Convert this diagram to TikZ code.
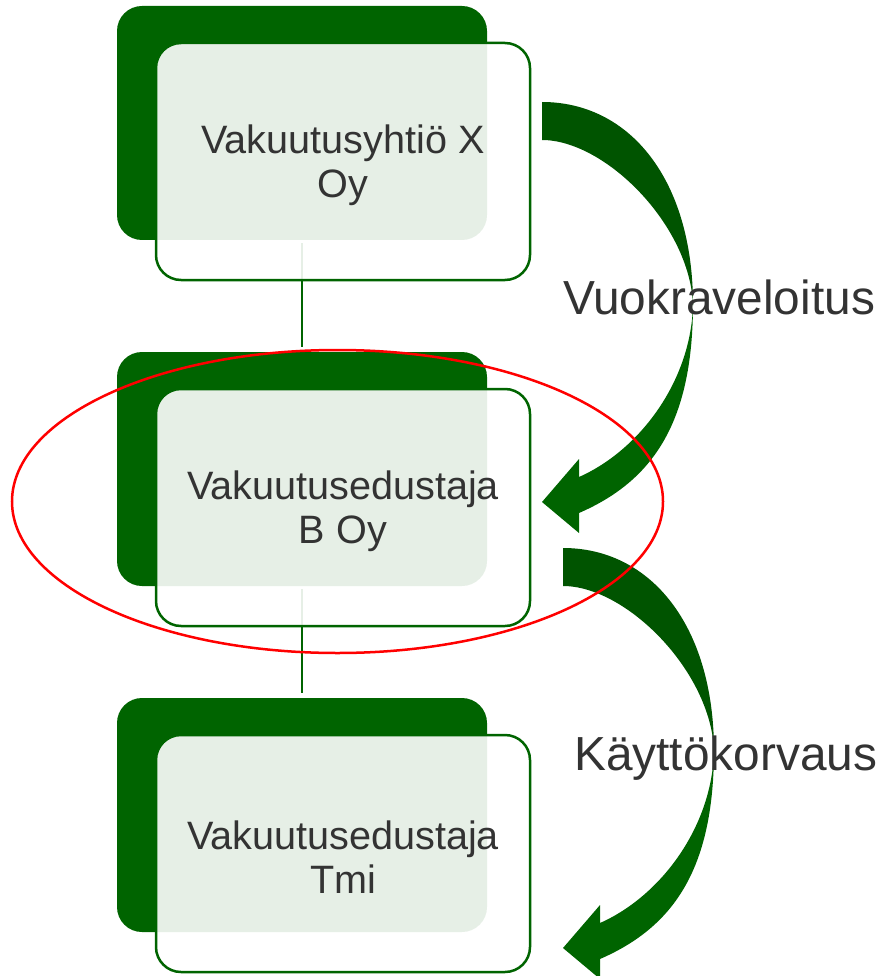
\documentclass[tikz,border=0pt]{standalone}
\usepackage{fontspec}
\setmainfont{Liberation Sans}
\definecolor{dg}{RGB}{0,100,0}
\definecolor{dga}{RGB}{0,84,0}
\definecolor{txt}{RGB}{51,51,51}
\tikzset{
  darkbox/.style={fill=dg, rounded corners=25pt, minimum width=370pt, minimum height=234pt, inner sep=0pt, outer sep=0pt},
  outbox/.style={fill=white, fill opacity=0.9, draw=dg, draw opacity=1, line width=2.5pt, rounded corners=25pt,
     minimum width=374pt, minimum height=237pt, inner sep=0pt, outer sep=0pt},
  boxtext/.style={text=txt, align=center, inner sep=0pt, font=\fontsize{39.6}{44}\selectfont},
  conn/.style={draw=dg, line width=2pt},
  lab/.style={text=txt, font=\fontsize{47.8}{56}\selectfont, inner sep=0pt},
  arrowtop/.style={fill=dga},
  arrowbot/.style={fill=dg},
}
\newcommand{\curvedarrow}{%
  \fill[arrowtop] (542,102) .. controls (630,102) and (693,180) .. (693,305)
     .. controls (690,225) and (605,140) .. (542,140) -- cycle;
  \fill[arrowbot] (693,303) .. controls (693,420) and (655,480) .. (579,513)
     -- (579,533) -- (542,502) -- (579,459) -- (579,477)
     .. controls (640,450) and (692,380) .. (693,303) -- cycle;
}
\begin{document}
\begin{tikzpicture}[x=1pt,y=-1pt]
\useasboundingbox (0,0) rectangle (881,976);
% dark back boxes
\node[darkbox] (d1) at (302,123) {};
\node[darkbox] (d2) at (302,469) {};
\node[darkbox] (d3) at (302,815) {};
% connectors
\draw[conn, shorten <=3pt, shorten >=5pt] (d1.south) -- (d2.north);
\draw[conn, shorten <=3pt, shorten >=5pt] (d2.south) -- (d3.north);
% front boxes
\node[outbox] (b1) at (343,161.5) {};
\node[outbox] (b2) at (343,507.5) {};
\node[outbox] (b3) at (343,853.5) {};
\node[boxtext] (t1) at ([yshift=-3.5pt]b1.center) {Vakuutusyhtiö X\\Oy};
\node[boxtext] (t2) at ([yshift=-3.5pt]b2.center) {Vakuutusedustaja\\B Oy};
\node[boxtext] (t3) at ([yshift=-3.5pt]b3.center) {Vakuutusedustaja\\Tmi};
% curved arrows
\curvedarrow
\begin{scope}[shift={(21,446)}]
\curvedarrow
\end{scope}
% labels
\node[lab, anchor=base west] (l1) at (563,314) {Vuokraveloitus};
\node[lab, anchor=base west] (l2) at (574,770) {Käyttökorvaus};
% red ellipse
\draw[red, line width=2.5pt] (337.5,501.5) ellipse [x radius=325.5, y radius=151.5];
\end{tikzpicture}
\end{document}
